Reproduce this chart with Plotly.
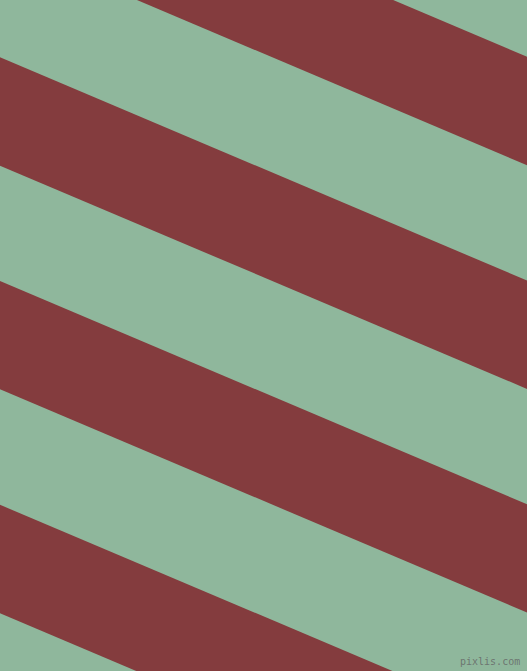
import plotly.graph_objects as go

W, H = 527, 671

# stripe colours
green = "#8fb79c"
red = "#843c3e"

# stripes run down to the right; boundary lines y = c + slope * x
slope = 0.4235
red_top = [-166.5, 57.3, 281.0, 504.8]
red_bottom = [-58.0, 165.7, 389.3, 613.3]

fig = go.Figure()

for top, bot in zip(red_top, red_bottom):
    fig.add_trace(
        go.Scatter(
            x=[0, W, W, 0, 0],
            y=[top, top + slope * W, bot + slope * W, bot, top],
            fill="toself",
            fillcolor=red,
            mode="none",
            hoverinfo="skip",
            showlegend=False,
        )
    )

# small watermark, bottom right
fig.add_annotation(
    x=W - 5,
    y=H - 2,
    xanchor="right",
    yanchor="bottom",
    text="pixlis.com",
    showarrow=False,
    font=dict(family="DejaVu Sans Mono", size=10, color="rgba(100,100,100,0.8)"),
)

fig.update_layout(
    width=W,
    height=H,
    margin=dict(l=0, r=0, t=0, b=0),
    paper_bgcolor=green,
    plot_bgcolor=green,
    xaxis=dict(range=[0, W], visible=False, fixedrange=True),
    yaxis=dict(range=[H, 0], visible=False, fixedrange=True),
)

fig.write_html(
    "out.html",
    config={"displayModeBar": False},
    post_script="document.body.style.margin='0';",
)
